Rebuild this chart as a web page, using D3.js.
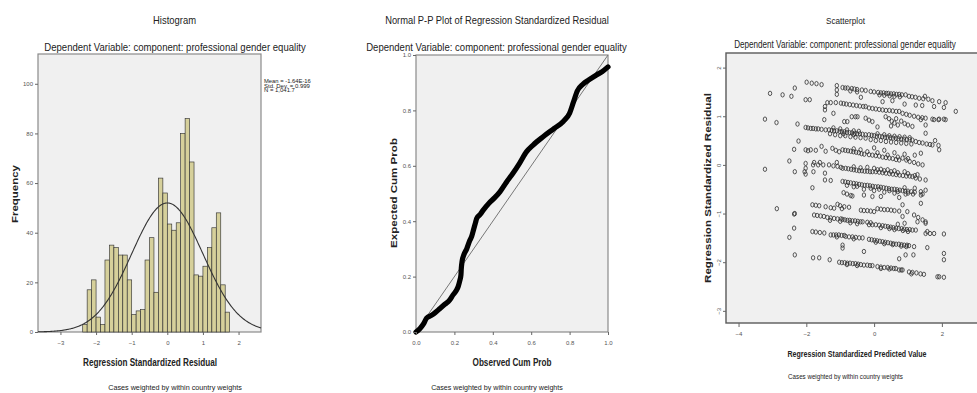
<!DOCTYPE html>
<html>
<head>
<meta charset="utf-8">
<script src="https://cdn.jsdelivr.net/npm/d3@7"></script>
<style>
  body { margin: 0; background: #fff; }
  text { font-family: "Liberation Sans Narrow", "Arial Narrow", "Liberation Sans", Arial, sans-serif; fill: #222; }
  .tick text { fill: #555; font-size: 6px; }
  .tick line { stroke: #666; }
</style>
</head>
<body>
<div id="chart"></div>
<script>
// ---- histogram data
const binWidth = 0.125;
const firstBinStart = -2.375;
const frequencies = [3, 17, 21, 6, 3, 29, 35, 34, 31, 31, 21, 7, 8.5, 9, 29, 38, 16,
  62, 56, 43.5, 41, 44, 80, 86, 68.5, 23, 22.5, 26.5, 34, 42, 48, 19, 8];
const normalStats = [-1.64e-16, 0.999, 1041.7]; // mean, sd, N
const statLabels = ["Mean = -1.64E-16", "Std. Dev. = 0.999", "N = 1,041.7"];
const histXTicks = [-3, -2, -1, 0, 1, 2];
const histYTicks = [0, 20, 40, 60, 80, 100];

// ---- P-P plot data
const ppObserved = [0, 0.02, 0.04, 0.055, 0.08, 0.1, 0.125, 0.15, 0.175, 0.193, 0.21, 0.22, 0.228, 0.234,
  0.236, 0.24, 0.25, 0.264, 0.28, 0.29, 0.3, 0.31, 0.316, 0.335, 0.35, 0.38, 0.41, 0.437, 0.47, 0.505,
  0.54, 0.576, 0.61, 0.662, 0.72, 0.767, 0.8, 0.82, 0.84, 0.87, 0.9, 0.94, 0.97, 1.0];
const ppExpected = [0, 0.012, 0.03, 0.05, 0.06, 0.07, 0.085, 0.1, 0.115, 0.134, 0.15, 0.165, 0.185, 0.206,
  0.23, 0.255, 0.28, 0.3, 0.33, 0.345, 0.37, 0.395, 0.41, 0.425, 0.44, 0.465, 0.485, 0.506, 0.54, 0.573,
  0.61, 0.651, 0.675, 0.705, 0.735, 0.76, 0.79, 0.83, 0.87, 0.895, 0.91, 0.928, 0.94, 0.957];
const ppTicks = [0, 0.2, 0.4, 0.6, 0.8, 1.0];

// ---- scatterplot data: [standardized predicted, standardized residual]
const scatterPoints = [
  [-3.07,1.47],[-2.70,1.44],[-2.44,1.41],[-2.34,1.58],
  [-1.99,1.70],[-1.84,1.68],[-1.70,1.67],[-1.55,1.65],
  [-1.10,1.63],[-1.10,1.54],[-1.10,1.45],
  [-0.93,1.59],[-0.85,1.58],[-0.78,1.58],[-0.66,1.57],[-0.58,1.56],[-0.50,1.55],
  [-0.36,1.54],[-0.25,1.53],[-0.10,1.51],[0.00,1.50],[0.12,1.49],[0.20,1.48],[0.28,1.48],[0.36,1.47],
  [0.42,1.47],[0.50,1.46],[0.58,1.46],[0.66,1.45],[0.74,1.45],[0.82,1.44],[0.93,1.44],
  [1.03,1.41],[1.12,1.40],[1.22,1.39],[1.33,1.37],[1.45,1.36],[1.60,1.35],
  [1.72,1.32],[1.92,1.30],[2.11,1.28],[2.41,1.10],[-0.39,1.39],[1.50,1.41],
  [0.16,1.44],[0.30,1.43],[0.46,1.42],[0.60,1.41],[0.76,1.40],[-0.70,1.52],[-0.50,1.50],
  [-2.02,1.34],[-1.90,1.34],[-1.38,1.28],[-1.28,1.28],[-1.13,1.28],
  [-1.45,1.20],[-1.45,1.13],[-1.20,1.06],[-1.47,0.93],
  [-0.98,1.27],[-0.90,1.26],[-0.82,1.25],[-0.72,1.24],[-0.62,1.23],[-0.52,1.22],[-0.42,1.21],[-0.32,1.20],[-0.25,1.20],
  [-0.15,1.17],[-0.05,1.16],[0.05,1.15],[0.15,1.14],[0.25,1.13],[0.35,1.12],[0.45,1.12],[0.55,1.11],[0.65,1.10],[0.74,1.10],
  [0.84,1.06],[0.95,1.04],[1.05,1.02],[1.18,1.00],[1.30,0.98],[1.42,0.97],[1.52,0.96],
  [1.72,0.94],[1.90,0.93],[2.11,0.93],
  [-0.88,0.89],[-0.79,0.89],[-0.66,0.99],[-0.55,0.99],[-0.49,0.99],
  [-0.25,0.96],[-0.15,0.92],[-0.05,0.89],[0.10,0.78],
  [0.34,0.99],[0.44,0.95],[0.52,0.90],[0.60,0.86],[0.70,0.82],[0.80,0.90],[0.90,0.85],[1.00,0.82],[1.13,0.79],[0.50,0.80],[0.65,0.95],
  [1.38,0.93],[1.52,0.82],[1.77,0.93],[1.92,0.94],[2.06,0.94],[1.52,0.65],
  [0.25,1.30],[0.54,1.32],[0.90,1.25],[1.23,1.23],[1.42,1.22],[1.77,1.20],[2.06,1.18],
  [-3.22,0.94],[-2.88,0.87],[-2.26,0.84],
  [-2.02,0.77],[-1.95,0.76],[-1.87,0.75],[-1.80,0.75],[-1.72,0.74],[-1.65,0.74],[-1.55,0.73],[-1.43,0.72],
  [-1.33,0.72],[-1.25,0.71],[-1.18,0.70],[-1.10,0.70],[-1.02,0.69],[-0.95,0.68],[-0.88,0.68],[-0.80,0.67],
  [-0.72,0.66],[-0.65,0.66],[-0.57,0.65],[-0.50,0.64],[-0.42,0.64],[-0.34,0.63],[-0.25,0.62],
  [-1.30,0.64],[-1.15,0.62],[-1.00,0.60],[-0.85,0.60],[-0.70,0.58],[-0.55,0.57],[-0.40,0.56],[-0.25,0.55],
  [-1.20,0.76],[-1.00,0.74],[-0.80,0.72],[-0.60,0.70],[-0.45,0.69],[-0.90,0.64],[-0.60,0.62],
  [-0.15,0.62],[-0.07,0.61],[0.00,0.60],[0.08,0.59],[0.16,0.59],[0.24,0.58],[0.32,0.57],[0.40,0.57],[0.48,0.56],
  [0.56,0.55],[0.64,0.55],[0.72,0.54],[0.80,0.53],[0.88,0.53],[0.96,0.52],[1.05,0.52],[1.13,0.51],
  [0.10,0.64],[0.30,0.62],[0.45,0.60],[0.60,0.59],[0.75,0.58],[0.90,0.57],[1.05,0.56],
  [-0.10,0.52],[0.05,0.50],[0.20,0.50],[0.35,0.48],[0.50,0.47],[0.65,0.46],[0.80,0.45],[0.95,0.44],[1.10,0.43],
  [1.23,0.48],[1.33,0.46],[1.43,0.45],[1.55,0.43],[1.65,0.42],[1.72,0.41],[1.92,0.31],[1.80,0.50],[1.90,0.40],
  [-2.36,0.32],[-2.23,0.49],[-2.50,0.08],
  [-2.02,0.31],[-1.95,0.29],[-1.87,0.31],[-1.72,0.30],[-1.55,0.38],[-1.43,0.28],
  [-1.23,0.34],[-1.13,0.30],[-1.03,0.27],
  [-0.93,0.31],[-0.85,0.30],[-0.77,0.29],[-0.69,0.28],[-0.61,0.27],[-0.53,0.26],[-0.45,0.25],[-0.37,0.23],[-0.29,0.22],[-0.20,0.27],
  [-0.15,0.21],[-0.05,0.20],[0.05,0.19],[0.15,0.18],[0.25,0.16],[0.35,0.15],[0.45,0.14],[0.55,0.13],[0.65,0.11],[0.74,0.10],
  [0.84,0.14],[0.95,0.10],[1.05,0.07],[1.18,0.05],[1.30,0.02],[1.43,0.00],
  [0.00,0.35],[0.30,0.30],[0.60,0.25],[0.90,0.22],[1.20,0.20],[1.38,0.24],
  [-0.60,0.33],[-0.40,0.31],[0.10,0.25],[0.40,0.20],[0.70,0.16],[1.00,0.13],
  [-3.22,-0.09],[-2.34,-0.14],[-2.02,-0.19],[-2.05,-0.14],[-1.79,-0.14],[-1.45,-0.17],[-1.45,-0.31],[-1.28,-0.32],
  [-2.02,0.03],[-2.02,-0.07],[-1.80,0.00],[-1.65,0.00],[-1.50,0.00],[-1.77,0.05],[-1.60,0.05],
  [-1.33,0.00],[-1.20,-0.02],[-1.08,-0.03],[-0.98,-0.05],[-0.93,-0.07],[-1.10,0.05],
  [-0.84,-0.07],[-0.76,-0.08],[-0.68,-0.09],[-0.60,-0.10],[-0.52,-0.11],[-0.44,-0.12],[-0.36,-0.12],[-0.28,-0.13],
  [-0.20,-0.13],[-0.12,-0.14],[-0.05,-0.14],
  [0.05,-0.14],[0.15,-0.15],[0.25,-0.16],[0.35,-0.17],[0.45,-0.18],[0.55,-0.19],[0.65,-0.20],[0.75,-0.21],
  [0.85,-0.22],[0.95,-0.23],[1.05,-0.23],[1.13,-0.24],[1.23,-0.27],[1.35,-0.29],[1.52,-0.31],
  [-0.20,-0.05],[0.00,-0.07],[0.20,-0.09],[0.40,-0.10],[0.60,-0.12],[0.90,-0.14],[1.28,-0.20],
  [-0.60,-0.04],[-0.40,-0.06],[0.10,-0.10],[0.30,-0.12],[0.50,-0.14],[0.70,-0.16],[1.00,-0.18],[1.20,-0.22],
  [-1.82,-0.47],
  [-0.93,-0.34],[-0.85,-0.35],[-0.77,-0.36],[-0.69,-0.37],[-0.60,-0.38],[-0.52,-0.39],[-0.44,-0.40],[-0.36,-0.41],
  [-0.28,-0.42],[-0.20,-0.42],[-0.12,-0.43],[-0.04,-0.44],[0.04,-0.45],[0.12,-0.45],[0.20,-0.46],[0.28,-0.47],
  [0.36,-0.48],[0.44,-0.49],[0.52,-0.50],[0.60,-0.50],[0.68,-0.51],[0.76,-0.52],[0.84,-0.53],[0.92,-0.54],
  [1.00,-0.54],[1.10,-0.55],[1.20,-0.56],[1.38,-0.55],[1.52,-0.52],
  [-0.90,-0.57],[-0.80,-0.60],[-0.69,-0.63],[-0.64,-0.64],[-0.30,-0.62],[-0.05,-0.65],[0.20,-0.65],[0.74,-0.67],
  [0.93,-0.60],[1.43,-0.60],[1.38,-0.62],
  [-0.60,-0.45],[-0.30,-0.50],[0.00,-0.53],[0.30,-0.56],[0.60,-0.58],[0.90,-0.47],[1.20,-0.48],
  [-0.80,-0.42],[-0.50,-0.44],[-0.10,-0.48],[0.15,-0.50],[0.45,-0.53],[0.70,-0.55],[1.00,-0.58],[1.15,-0.60],
  [-2.87,-0.90],[-2.34,-1.00],
  [-1.82,-0.82],[-1.72,-0.83],[-1.62,-0.84],[-1.43,-0.86],[-1.28,-0.88],[-1.18,-0.89],
  [-1.08,-0.81],[-1.00,-0.84],[-0.95,-0.90],[-0.88,-0.86],[-0.74,-0.87],
  [-0.39,-0.93],[-0.30,-0.94],[-0.20,-0.94],[-0.10,-0.95],[0.00,-0.96],[0.10,-0.90],[0.20,-0.91],[0.30,-0.92],
  [0.40,-0.92],[0.50,-0.93],[0.60,-0.94],[0.74,-0.95],[0.84,-0.82],[0.98,-0.96],
  [0.84,-1.06],[1.18,-1.03],[1.30,-1.08],[1.43,-1.13],[1.52,-1.20],[1.38,-0.79],
  [-2.36,-1.01],[-2.36,-1.30],[-2.50,-1.49],
  [-1.77,-1.03],[-1.68,-1.04],[-1.58,-1.05],[-1.48,-1.06],[-1.38,-1.08],[-1.28,-1.09],[-1.18,-1.10],[-1.08,-1.11],[-0.98,-1.11],
  [-0.93,-1.12],[-0.86,-1.13],[-0.79,-1.14],[-0.72,-1.14],[-0.64,-1.15],[-0.56,-1.15],[-0.48,-1.16],[-0.40,-1.17],
  [-0.34,-1.17],[-0.20,-1.18],[-0.10,-1.19],
  [-1.30,-1.14],[-1.00,-1.16],[-0.70,-1.19],[-0.50,-1.21],
  [-0.15,-1.23],[-0.05,-1.23],[0.05,-1.23],[0.15,-1.24],[0.25,-1.25],[0.33,-1.26],[0.41,-1.27],[0.49,-1.28],
  [0.57,-1.29],[0.65,-1.30],[0.73,-1.31],[0.81,-1.31],[0.89,-1.32],[0.97,-1.33],[1.05,-1.33],[1.13,-1.34],[1.23,-1.34],
  [0.20,-1.29],[0.45,-1.31],[0.60,-1.33],[0.85,-1.35],[1.00,-1.37],
  [1.28,-1.17],[1.52,-1.17],[1.57,-1.37],[0.70,-1.22],[0.90,-1.20],
  [-1.82,-1.37],[-1.72,-1.38],[-1.60,-1.39],[-1.47,-1.40],
  [-1.28,-1.44],[-1.20,-1.44],[-1.12,-1.44],[-1.04,-1.44],[-0.96,-1.45],[-0.88,-1.45],
  [-0.84,-1.47],[-0.74,-1.48],[-0.64,-1.48],[-0.54,-1.49],[-0.44,-1.50],[-0.34,-1.50],
  [-1.10,-1.48],[-0.60,-1.52],
  [-0.15,-1.53],[-0.07,-1.54],[0.01,-1.55],[0.09,-1.56],[0.17,-1.57],[0.25,-1.58],[0.33,-1.59],[0.41,-1.60],
  [0.49,-1.61],[0.57,-1.62],[0.65,-1.63],[0.73,-1.63],[0.81,-1.64],[0.89,-1.65],[0.97,-1.65],[1.03,-1.66],
  [0.05,-1.59],[0.30,-1.62],[0.55,-1.64],[0.80,-1.67],[0.95,-1.68],
  [1.52,-1.41],[1.65,-1.41],[1.77,-1.41],[2.06,-1.42],[1.18,-1.68],[1.57,-1.70],[-0.93,-1.65],[-0.93,-1.71],[-0.30,-1.78],
  [-2.34,-1.85],[-1.80,-1.91],[-1.62,-1.91],[-1.31,-1.95],
  [-1.03,-2.00],[-0.95,-2.01],[-0.87,-2.01],[-0.79,-2.02],[-0.71,-2.02],[-0.63,-2.03],[-0.55,-2.03],[-0.47,-2.04],
  [-0.39,-2.05],[-0.30,-2.06],[-0.20,-2.06],[-0.12,-2.07],[-0.05,-2.07],[-0.80,-2.05],[-0.50,-2.07],
  [0.10,-2.09],[0.20,-2.10],[0.30,-2.11],[0.40,-2.11],[0.50,-2.12],[0.58,-2.13],[0.64,-2.13],[0.74,-2.16],[0.80,-2.16],[0.84,-2.16],
  [0.20,-2.13],[0.45,-2.14],
  [1.03,-2.20],[1.13,-2.21],[1.25,-2.22],[1.37,-2.24],[1.47,-2.25],[1.10,-2.24],
  [1.87,-2.30],[1.92,-2.30],[2.06,-2.31],
  [2.06,-1.82],[2.06,-1.95],[0.74,-1.93],[0.93,-1.85],[1.16,-1.85]
];
const scXTicks = [-4, -2, 0, 2];
const scYTicks = [-3, -2, -1, 0, 1, 2];

const W = 977, H = 393;
const svg = d3.select('#chart').append('svg')
  .attr('width', W).attr('height', H);

// text squeezed horizontally to the width measured on the reference
function label(txt, x, y, size, len, opts = {}) {
  const t = svg.append('text')
    .attr('x', 0).attr('y', 0)
    .attr('text-anchor', opts.anchor || 'middle')
    .attr('font-size', size)
    .attr('font-weight', opts.bold ? 'bold' : 'normal')
    .text(txt);
  const natural = t.node().getComputedTextLength();
  const k = len && natural ? len / natural : 1;
  t.attr('transform', `translate(${x},${y})${opts.rotate ? ' rotate(-90)' : ''} scale(${k},1)`);
  return t;
}

function frame(b, stroke, sw) {
  svg.append('rect')
    .attr('x', b.left).attr('y', b.top)
    .attr('width', b.right - b.left).attr('height', b.bottom - b.top)
    .attr('fill', '#f0f0f0').attr('stroke', stroke).attr('stroke-width', sw);
}

function axes(b, x, y, xt, yt, fmt, xPad, ySize) {
  const gx = svg.append('g').attr('transform', `translate(0,${b.bottom})`)
    .call(d3.axisBottom(x).tickValues(xt).tickSize(3).tickPadding(xPad).tickFormat(fmt));
  gx.select('.domain').remove();
  const gy = svg.append('g').attr('transform', `translate(${b.left},0)`)
    .call(d3.axisLeft(y).tickValues(yt).tickSize(ySize).tickPadding(2).tickFormat(fmt));
  gy.select('.domain').remove();
  return gy;
}

// ================= Histogram =================
const hb = { left: 38, right: 261, top: 54, bottom: 332 };
const hx = d3.scaleLinear().domain([-3.63, 2.63]).range([hb.left, hb.right]);
const hy = d3.scaleLinear().domain([0, 112]).range([hb.bottom, hb.top]);
frame(hb, '#8a8a8a', 1.2);

svg.append('g').selectAll('rect')
  .data(frequencies)
  .enter()
  .append('rect')
  .attr('x', (d, i) => hx(firstBinStart + i * binWidth))
  .attr('width', hx(binWidth) - hx(0))
  .attr('y', d => hy(d))
  .attr('height', d => hy(0) - hy(d))
  .attr('fill', '#d6d09b')
  .attr('stroke', '#333')
  .attr('stroke-width', 0.65);

const [mu, sd, nObs] = normalStats;
const curveX = d3.range(-3.63, 2.631, 0.02);
const dens = v => nObs * binWidth / (sd * Math.sqrt(2 * Math.PI)) * Math.exp(-0.5 * ((v - mu) / sd) ** 2);
svg.append('path')
  .datum(curveX)
  .attr('d', d3.line().x(v => hx(v)).y(v => hy(dens(v))))
  .attr('fill', 'none').attr('stroke', '#333').attr('stroke-width', 1.1);

axes(hb, hx, hy, histXTicks, histYTicks, d3.format('d'), 6, 3);

label('Histogram', 174.5, 24, 10, 43);
label('Dependent Variable: component: professional gender equality', 175, 51, 11, 262);
statLabels.forEach((s, i) => {
  label(s, 264, 83 + i * 4.5, 5.5, [47, 46, 31][i], { anchor: 'start' });
});
label('Frequency', 18, 194, 9, 58, { bold: true, rotate: true });
label('Regression Standardized Residual', 150, 366, 10, 134, { bold: true });
label('Cases weighted by within country weights', 175, 390, 8, 134);

// ================= P-P plot =================
const pb = { left: 416, right: 608, top: 55, bottom: 332 };
const px = d3.scaleLinear().domain([0, 1]).range([pb.left, pb.right]);
const py = d3.scaleLinear().domain([0, 1]).range([pb.bottom, pb.top]);
frame(pb, '#8a8a8a', 1.2);

svg.append('line')
  .attr('x1', px(0)).attr('y1', py(0)).attr('x2', px(1)).attr('y2', py(1))
  .attr('stroke', '#777').attr('stroke-width', 1);

svg.append('path')
  .datum(d3.zip(ppObserved, ppExpected))
  .attr('d', d3.line().x(d => px(d[0])).y(d => py(d[1])).curve(d3.curveMonotoneX))
  .attr('fill', 'none').attr('stroke', '#000').attr('stroke-width', 5.2)
  .attr('stroke-linecap', 'round').attr('stroke-linejoin', 'round');

axes(pb, px, py, ppTicks, ppTicks, d3.format('.1f'), 6, 3);

label('Normal P-P Plot of Regression Standardized Residual', 497, 24, 10, 224);
label('Dependent Variable: component: professional gender equality', 496.5, 51, 11, 261);
label('Expected Cum Prob', 396.5, 193, 9, 110, { bold: true, rotate: true });
label('Observed Cum Prob', 512, 366, 10, 79, { bold: true });
label('Cases weighted by within country weights', 497, 390, 8, 132);

// ================= Scatterplot =================
const sb = { left: 726, right: 990, top: 53, bottom: 323 };
const sx = d3.scaleLinear().domain([-4.37, 3.42]).range([sb.left, sb.right]);
const sy = d3.scaleLinear().domain([-3.25, 2.30]).range([sb.bottom, sb.top]);
frame(sb, '#5a5a5a', 1.4);

svg.append('g').selectAll('ellipse')
  .data(scatterPoints)
  .enter()
  .append('ellipse')
  .attr('cx', d => sx(d[0]))
  .attr('cy', d => sy(d[1]))
  .attr('rx', 1.7).attr('ry', 2.2)
  .attr('fill', 'none')
  .attr('stroke', '#2e2e2e')
  .attr('stroke-width', 0.8);

{
  const gx = svg.append('g').attr('transform', `translate(0,${sb.bottom})`)
    .call(d3.axisBottom(sx).tickValues(scXTicks).tickSize(4).tickPadding(5).tickFormat(d3.format('d')));
  gx.select('.domain').remove();
  const gy = svg.append('g').attr('transform', `translate(${sb.left},0)`)
    .call(d3.axisLeft(sy).tickValues(scYTicks).tickSize(3).tickPadding(1.5).tickFormat(d3.format('d')));
  gy.select('.domain').remove();
  // SPSS draws these y tick labels turned on their side
  gy.selectAll('.tick text')
    .attr('x', -5).attr('dy', 0)
    .attr('text-anchor', 'middle')
    .attr('transform', 'rotate(-90,-5,0)');
}

label('Scatterplot', 845.5, 24, 9.5, 39);
label('Dependent Variable: component: professional gender equality', 845, 47.5, 10, 222);
label('Regression Standardized Residual', 711, 188, 9, 190, { bold: true, rotate: true });
label('Regression Standardized Predicted Value', 857, 357, 9.5, 139, { bold: true });
label('Cases weighted by within country weights', 845.5, 379, 7.5, 115);
</script>
</body>
</html>
